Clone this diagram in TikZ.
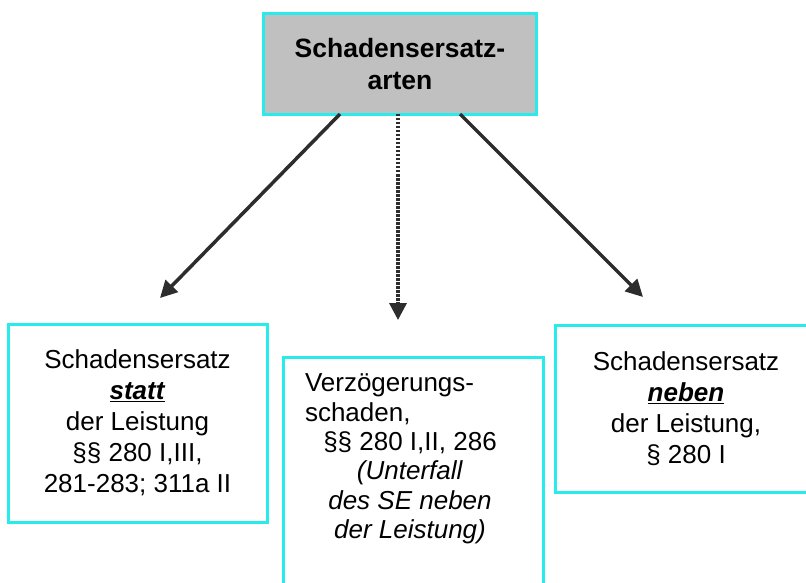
\documentclass[tikz,border=0pt]{standalone}
\usepackage{fontspec}
\setmainfont{Liberation Sans}
\usetikzlibrary{arrows.meta}
\definecolor{boxcyan}{RGB}{40,235,235}
\definecolor{topgray}{RGB}{192,192,192}
\definecolor{arrowgray}{RGB}{45,45,45}
\tikzset{
  box/.style={draw=boxcyan, line width=3pt, fill=white, inner sep=0pt, align=center,
    font=\fontsize{26}{31}\selectfont},
  topbox/.style={box, fill=topgray, font=\fontsize{26.5}{31.5}\selectfont\bfseries},
  boxtext/.style={inner sep=0pt, align=center, font=\fontsize{26}{29.5}\selectfont},
  conn/.style={draw=arrowgray, line width=3.5pt, -{Triangle[length=17pt,width=17pt]}},
  dottedconn/.style={conn, dash pattern=on 2.5pt off 1.5pt}
}
\newcommand{\emphu}[1]{\underline{\textbf{\textit{#1}}}}
\begin{document}
\begin{tikzpicture}[x=1pt,y=-1pt]
\useasboundingbox (0,0) rectangle (806,583);
\node[topbox, minimum width=273pt, minimum height=101pt] (top) at (400,64) {Schadensersatz-\\arten};
\node[box, minimum width=259pt, minimum height=198pt] (left) at (137.5,423) {Schadensersatz\\\emphu{statt}\\der Leistung\\§§ 280 I,III,\\281-283; 311a II};
\node[box, minimum width=260pt, minimum height=232pt] (mid) at (413,473) {};
\node[boxtext] (midtext) at (410,459) {\makebox[210pt][l]{Verzögerungs-}\\\makebox[210pt][l]{schaden,}\\§§ 280 I,II, 286\\\textit{(Unterfall}\\\textit{des SE neben}\\\textit{der Leistung)}};
\node[box, minimum width=262pt, minimum height=167pt] (right) at (686,409) {Schadensersatz\\\emphu{neben}\\der Leistung,\\§ 280 I};
\coordinate (ls) at (340,114);
\coordinate (ms) at (398,114);
\coordinate (rs) at (460,114);
\coordinate (le) at (160,298);
\coordinate (me) at (398,320);
\coordinate (re) at (643,297);
\draw[conn] (ls) -- (le);
\draw[dottedconn] (ms) -- (me);
\draw[conn] (rs) -- (re);
\end{tikzpicture}
\end{document}
